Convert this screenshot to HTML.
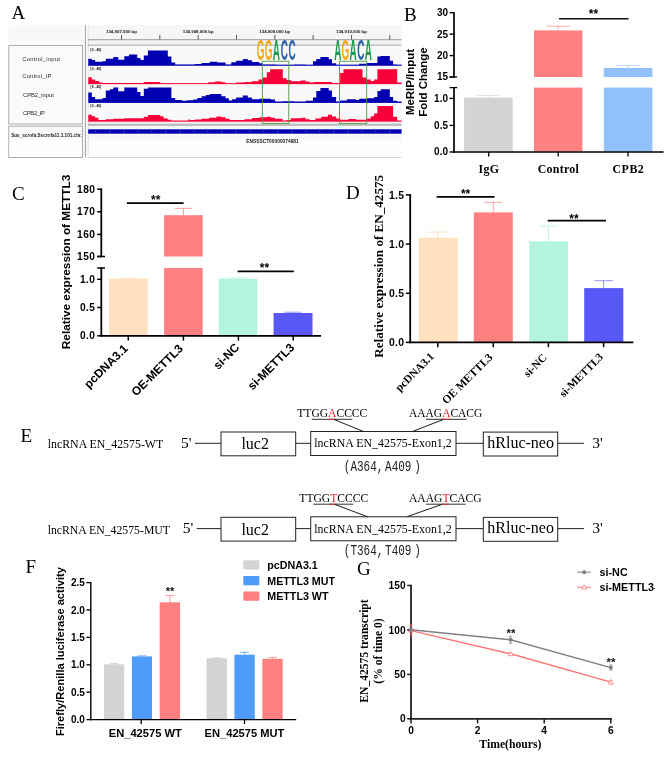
<!DOCTYPE html>
<html><head><meta charset="utf-8"><title>Figure</title>
<style>html,body{margin:0;padding:0;background:#fff}svg{display:block;will-change:transform}.sa{font-family:"Liberation Sans", sans-serif}.se{font-family:"Liberation Serif", serif}.mo{font-family:"Liberation Mono", monospace}</style></head><body>
<svg width="666" height="761" viewBox="0 0 666 761">
<rect width="666" height="761" fill="#fff"/>
<g id="panelA">
<text class="se" x="11.5" y="18.8" font-size="19">A</text>
<rect x="8.40" y="25.00" width="393.20" height="132.60" fill="#f8f8f8"/>
<rect x="8.80" y="45.50" width="73.70" height="78.50" fill="#fafafa" stroke="#9a9a9a" stroke-width="0.8"/>
<rect x="8.80" y="126.20" width="73.70" height="31.20" fill="#fafafa" stroke="#9a9a9a" stroke-width="0.8"/>
<rect x="83.40" y="25.00" width="5.00" height="132.60" fill="#fafafa"/>
<rect x="84.90" y="25.00" width="1.00" height="132.60" fill="#a2a2a2"/>
<rect x="87.90" y="25.00" width="1.00" height="132.60" fill="#a8a8a8"/>
<rect x="88.20" y="25.00" width="313.40" height="14.50" fill="#f6f6f6"/>
<rect x="88.20" y="39.30" width="313.40" height="1.00" fill="#8c8c8c"/>
<rect x="88.20" y="40.70" width="313.40" height="3.80" fill="#f4f4f4"/>
<rect x="88.20" y="44.50" width="313.40" height="1.40" fill="#b8b8b8"/>
<rect x="88.20" y="45.90" width="313.40" height="76.60" fill="#f9f9f9"/>
<rect x="88.20" y="122.50" width="313.40" height="1.60" fill="#e2e2e2"/>
<rect x="88.20" y="124.10" width="313.40" height="1.80" fill="#b4b4b4"/>
<rect x="88.20" y="125.90" width="313.40" height="31.50" fill="#f7f7f7"/>
<rect x="88.90" y="139.60" width="312.70" height="17.40" fill="#fdfdfd"/>
<rect x="9.30" y="139.60" width="72.70" height="17.30" fill="#fefefe"/>
<rect x="88.20" y="157.00" width="313.40" height="0.60" fill="#bdbdbd"/>
<line x1="121.5" y1="35" x2="121.5" y2="39.5" stroke="#333" stroke-width="0.8"/>
<line x1="159.8" y1="35" x2="159.8" y2="39.5" stroke="#333" stroke-width="0.8"/>
<line x1="198.2" y1="35" x2="198.2" y2="39.5" stroke="#333" stroke-width="0.8"/>
<line x1="236.5" y1="35" x2="236.5" y2="39.5" stroke="#333" stroke-width="0.8"/>
<line x1="274.8" y1="35" x2="274.8" y2="39.5" stroke="#333" stroke-width="0.8"/>
<line x1="313.1" y1="35" x2="313.1" y2="39.5" stroke="#333" stroke-width="0.8"/>
<line x1="351.5" y1="35" x2="351.5" y2="39.5" stroke="#333" stroke-width="0.8"/>
<line x1="389.8" y1="35" x2="389.8" y2="39.5" stroke="#333" stroke-width="0.8"/>
<text class="sa" x="121.5" y="32.6" font-size="4.4" font-weight="bold" text-anchor="middle" fill="#111">134,907,000 bp</text>
<text class="sa" x="198.2" y="32.6" font-size="4.4" font-weight="bold" text-anchor="middle" fill="#111">134,908,000 bp</text>
<text class="sa" x="274.8" y="32.6" font-size="4.4" font-weight="bold" text-anchor="middle" fill="#111">134,909,000 bp</text>
<text class="sa" x="351.5" y="32.6" font-size="4.4" font-weight="bold" text-anchor="middle" fill="#111">134,910,000 bp</text>
<text class="sa" x="22.3" y="60.8" font-size="5.8" fill="#2a2a2a" textLength="37.5" lengthAdjust="spacing">Control_input</text>
<text class="sa" x="22.3" y="78.2" font-size="5.8" fill="#2a2a2a" textLength="29" lengthAdjust="spacing">Control_IP</text>
<text class="sa" x="23" y="96.9" font-size="5.8" fill="#2a2a2a" textLength="30.8" lengthAdjust="spacing">CPB2_input</text>
<text class="sa" x="23" y="114.6" font-size="5.8" fill="#2a2a2a" textLength="21.8" lengthAdjust="spacing">CPB2_IP</text>
<text class="sa" x="11.2" y="136.8" font-size="5.0" font-weight="bold" fill="#222" textLength="70.7" lengthAdjust="spacingAndGlyphs">Sus_scrofa.Sscrofa11.1.101.chr.</text>
<path d="M88.3 65.3L88.3 58.7L91.8 58.7L91.8 60.0L95.1 60.0L95.1 61.7L102.5 61.7L102.5 61.3L105.8 61.3L105.8 58.7L113.3 58.7L113.3 57.0L118.2 57.0L118.2 59.7L124.3 59.7L124.3 56.3L128.9 56.3L128.9 54.4L137.2 54.4L137.2 58.0L140.5 58.0L140.5 60.0L143.8 60.0L143.8 55.6L147.9 55.6L147.9 50.4L167.8 50.4L167.8 56.4L171.4 56.4L171.4 62.5L175.2 62.5L175.2 64.6L190.1 64.6L190.0 64.6L195.0 64.6L195.0 64.1L201.6 64.1L201.6 63.0L209.8 63.0L209.8 61.7L217.3 61.7L217.3 62.5L225.5 62.5L225.5 64.4L231.3 64.4L231.3 62.2L236.2 62.2L236.2 60.8L242.9 60.8L242.9 58.9L247.8 58.9L247.8 60.3L251.9 60.3L251.9 62.0L259.4 62.0L259.4 63.3L262.7 63.3L262.7 64.4L275.9 64.4L275.9 64.7L294.1 64.7L294.0 64.6L305.6 64.6L305.6 64.8L313.0 64.8L313.0 61.3L316.3 61.3L316.3 58.9L320.4 58.9L320.4 57.0L328.7 57.0L328.7 59.2L332.0 59.2L332.0 63.3L336.1 63.3L336.1 64.7L359.2 64.7L359.2 63.8L366.7 63.8L366.7 63.0L377.4 63.0L377.4 56.4L380.7 56.4L380.7 56.0L389.8 56.0L389.8 60.8L393.1 60.8L393.1 64.5L397.2 64.5L397.2 64.8L401.7 64.8L401.7 65.3Z" fill="#0000b2"/>
<rect x="88.20" y="64.85" width="313.40" height="0.85" fill="#0000b2"/>
<path d="M88.3 83.9L88.3 77.3L91.8 77.3L91.8 79.4L95.1 79.4L95.1 81.1L99.2 81.1L99.2 82.4L102.5 82.4L102.5 83.1L143.8 83.1L143.8 82.1L160.3 82.1L160.3 83.3L190.1 83.3L190.0 83.3L208.2 83.3L208.2 82.3L214.8 82.3L214.8 81.4L221.4 81.4L221.4 82.3L225.5 82.3L225.5 83.3L236.2 83.3L236.2 82.6L244.5 82.6L244.5 82.1L251.9 82.1L251.9 81.3L258.5 81.3L258.5 79.6L262.7 79.6L262.7 77.6L266.8 77.6L266.8 72.2L270.1 72.2L270.1 69.2L282.8 69.2L282.8 78.3L286.6 78.3L286.6 80.1L290.8 80.1L290.8 81.3L294.1 81.3L294.0 81.3L300.6 81.3L300.6 80.4L305.6 80.4L305.6 81.6L309.7 81.6L309.7 82.6L313.8 82.6L313.8 82.1L332.0 82.1L332.0 82.9L340.2 82.9L340.2 73.0L343.5 73.0L343.5 69.2L362.5 69.2L362.5 77.6L366.7 77.6L366.7 79.6L370.8 79.6L370.8 80.9L374.1 80.9L374.1 79.6L377.4 79.6L377.4 69.2L397.2 69.2L397.2 82.6L401.7 82.6L401.7 83.9Z" fill="#f80038"/>
<rect x="88.20" y="83.60" width="313.40" height="0.55" fill="#f80038"/>
<path d="M88.3 102.5L88.3 92.6L91.8 92.6L91.8 97.0L95.1 97.0L95.1 99.2L102.5 99.2L102.5 97.9L105.8 97.9L105.8 90.5L109.9 90.5L109.9 89.3L113.3 89.3L113.3 87.6L118.2 87.6L118.2 91.3L124.3 91.3L124.3 87.6L137.2 87.6L137.2 92.1L140.5 92.1L140.5 95.9L143.8 95.9L143.8 88.8L147.9 88.8L147.9 87.6L171.4 87.6L171.4 97.9L175.2 97.9L175.2 99.9L181.8 99.9L181.8 100.8L186.8 100.8L186.8 100.2L190.1 100.2L190.0 100.2L193.3 100.2L193.3 99.5L197.4 99.5L197.4 97.9L201.6 97.9L201.6 96.2L205.7 96.2L205.7 94.9L209.8 94.9L209.8 94.1L221.4 94.1L221.4 96.2L225.5 96.2L225.5 98.2L228.8 98.2L228.8 100.4L232.1 100.4L232.1 99.2L236.2 99.2L236.2 97.5L242.9 97.5L242.9 95.4L247.8 95.4L247.8 97.4L251.9 97.4L251.9 99.2L259.4 99.2L259.4 98.7L270.9 98.7L270.9 99.5L275.1 99.5L275.1 101.5L282.5 101.5L282.5 101.2L294.1 101.2L294.0 101.5L305.6 101.5L305.6 100.8L313.0 100.8L313.0 97.5L316.3 97.5L316.3 90.9L320.4 90.9L320.4 88.0L328.7 88.0L328.7 90.5L332.0 90.5L332.0 97.0L336.1 97.0L336.1 101.5L340.2 101.5L340.2 100.4L346.9 100.4L346.9 99.2L355.9 99.2L355.9 99.9L359.2 99.9L359.2 98.7L366.7 98.7L366.7 98.2L374.1 98.2L374.1 97.0L377.4 97.0L377.4 90.9L380.7 90.9L380.7 89.3L389.8 89.3L389.8 97.0L393.1 97.0L393.1 100.8L397.2 100.8L397.2 101.5L401.7 101.5L401.7 102.5Z" fill="#0000b2"/>
<rect x="88.20" y="102.05" width="313.40" height="0.85" fill="#0000b2"/>
<path d="M88.3 121.3L88.3 114.7L91.8 114.7L91.8 116.3L95.1 116.3L95.1 117.7L98.4 117.7L98.4 120.0L105.8 120.0L105.8 119.3L113.3 119.3L113.3 118.7L124.3 118.7L124.3 118.3L143.8 118.3L143.8 116.8L147.9 116.8L147.9 114.9L160.3 114.9L160.3 116.3L163.6 116.3L163.6 118.5L167.8 118.5L167.8 119.8L171.4 119.8L171.4 120.6L188.4 120.6L188.4 119.6L190.1 119.6L190.0 120.1L195.0 120.1L195.0 119.6L201.6 119.6L201.6 118.7L209.0 118.7L209.0 117.7L216.4 117.7L216.4 116.5L221.4 116.5L221.4 117.2L225.5 117.2L225.5 118.7L229.6 118.7L229.6 120.1L244.5 120.1L244.5 119.3L251.9 119.3L251.9 118.0L259.4 118.0L259.4 117.3L266.8 117.3L266.8 116.8L270.9 116.8L270.9 117.7L275.1 117.7L275.1 118.7L282.5 118.7L282.5 120.6L286.6 120.6L286.6 120.1L290.8 120.1L290.8 118.2L294.1 118.2L294.0 118.2L301.4 118.2L301.4 117.7L305.6 117.7L305.6 119.3L309.7 119.3L309.7 120.1L315.5 120.1L315.5 118.5L321.3 118.5L321.3 116.8L327.9 116.8L327.9 114.7L332.0 114.7L332.0 116.5L336.1 116.5L336.1 118.5L340.2 118.5L340.2 119.8L348.5 119.8L348.5 119.0L355.9 119.0L355.9 119.8L366.7 119.8L366.7 118.5L370.8 118.5L370.8 116.3L374.1 116.3L374.1 113.5L377.4 113.5L377.4 106.1L393.1 106.1L393.1 116.8L397.2 116.8L397.2 120.6L401.7 120.6L401.7 121.3Z" fill="#f80038"/>
<rect x="88.20" y="121.00" width="313.40" height="0.55" fill="#f80038"/>
<text class="sa" x="90.6" y="51.0" font-size="3.3" font-weight="bold" textLength="10.5" lengthAdjust="spacingAndGlyphs">[0 - 40]</text>
<text class="sa" x="90.6" y="69.60000000000001" font-size="3.3" font-weight="bold" textLength="10.5" lengthAdjust="spacingAndGlyphs">[0 - 40]</text>
<text class="sa" x="90.6" y="88.2" font-size="3.3" font-weight="bold" textLength="10.5" lengthAdjust="spacingAndGlyphs">[0 - 40]</text>
<text class="sa" x="90.6" y="107.0" font-size="3.3" font-weight="bold" textLength="10.5" lengthAdjust="spacingAndGlyphs">[0 - 40]</text>
<rect x="88.20" y="129.30" width="313.40" height="4.40" fill="#0000b2"/>
<path d="M96.3 130.6l-1 0.9l1 0.9" stroke="#9aa4ff" stroke-width="0.5" fill="none"/>
<path d="M110.3 130.6l-1 0.9l1 0.9" stroke="#9aa4ff" stroke-width="0.5" fill="none"/>
<path d="M124.3 130.6l-1 0.9l1 0.9" stroke="#9aa4ff" stroke-width="0.5" fill="none"/>
<path d="M138.3 130.6l-1 0.9l1 0.9" stroke="#9aa4ff" stroke-width="0.5" fill="none"/>
<path d="M152.3 130.6l-1 0.9l1 0.9" stroke="#9aa4ff" stroke-width="0.5" fill="none"/>
<path d="M166.3 130.6l-1 0.9l1 0.9" stroke="#9aa4ff" stroke-width="0.5" fill="none"/>
<path d="M180.3 130.6l-1 0.9l1 0.9" stroke="#9aa4ff" stroke-width="0.5" fill="none"/>
<path d="M194.3 130.6l-1 0.9l1 0.9" stroke="#9aa4ff" stroke-width="0.5" fill="none"/>
<path d="M208.3 130.6l-1 0.9l1 0.9" stroke="#9aa4ff" stroke-width="0.5" fill="none"/>
<path d="M222.3 130.6l-1 0.9l1 0.9" stroke="#9aa4ff" stroke-width="0.5" fill="none"/>
<path d="M236.3 130.6l-1 0.9l1 0.9" stroke="#9aa4ff" stroke-width="0.5" fill="none"/>
<path d="M250.3 130.6l-1 0.9l1 0.9" stroke="#9aa4ff" stroke-width="0.5" fill="none"/>
<path d="M264.3 130.6l-1 0.9l1 0.9" stroke="#9aa4ff" stroke-width="0.5" fill="none"/>
<path d="M278.3 130.6l-1 0.9l1 0.9" stroke="#9aa4ff" stroke-width="0.5" fill="none"/>
<path d="M292.3 130.6l-1 0.9l1 0.9" stroke="#9aa4ff" stroke-width="0.5" fill="none"/>
<path d="M306.3 130.6l-1 0.9l1 0.9" stroke="#9aa4ff" stroke-width="0.5" fill="none"/>
<path d="M320.3 130.6l-1 0.9l1 0.9" stroke="#9aa4ff" stroke-width="0.5" fill="none"/>
<path d="M334.3 130.6l-1 0.9l1 0.9" stroke="#9aa4ff" stroke-width="0.5" fill="none"/>
<path d="M348.3 130.6l-1 0.9l1 0.9" stroke="#9aa4ff" stroke-width="0.5" fill="none"/>
<path d="M362.3 130.6l-1 0.9l1 0.9" stroke="#9aa4ff" stroke-width="0.5" fill="none"/>
<path d="M376.3 130.6l-1 0.9l1 0.9" stroke="#9aa4ff" stroke-width="0.5" fill="none"/>
<path d="M390.3 130.6l-1 0.9l1 0.9" stroke="#9aa4ff" stroke-width="0.5" fill="none"/>
<text class="sa" x="272.5" y="143.2" font-size="4.6" font-weight="bold" text-anchor="middle" fill="#222" textLength="52.5" lengthAdjust="spacingAndGlyphs">ENSSSCT00000074981</text>
<rect x="262.3" y="61.2" width="26.5" height="62.2" fill="none" stroke="#4a9a3c" stroke-width="0.9"/>
<rect x="339.5" y="61.2" width="27.2" height="62.2" fill="none" stroke="#4a9a3c" stroke-width="0.9"/>
<text class="sa" transform="translate(260.72 60.4) scale(0.55 1.62)" font-size="18" font-weight="bold" text-anchor="middle" fill="#f5a81c">G</text>
<text class="sa" transform="translate(268.56 60.4) scale(0.55 1.62)" font-size="18" font-weight="bold" text-anchor="middle" fill="#f5a81c">G</text>
<text class="sa" transform="translate(276.40 60.4) scale(0.55 1.62)" font-size="18" font-weight="bold" text-anchor="middle" fill="#1e9a48">A</text>
<text class="sa" transform="translate(284.24 60.4) scale(0.55 1.62)" font-size="18" font-weight="bold" text-anchor="middle" fill="#2a62a8">C</text>
<text class="sa" transform="translate(292.08 60.4) scale(0.55 1.62)" font-size="18" font-weight="bold" text-anchor="middle" fill="#2a62a8">C</text>
<text class="sa" transform="translate(337.82 60.4) scale(0.55 1.62)" font-size="18" font-weight="bold" text-anchor="middle" fill="#1e9a48">A</text>
<text class="sa" transform="translate(345.46 60.4) scale(0.55 1.62)" font-size="18" font-weight="bold" text-anchor="middle" fill="#f5a81c">G</text>
<text class="sa" transform="translate(353.10 60.4) scale(0.55 1.62)" font-size="18" font-weight="bold" text-anchor="middle" fill="#1e9a48">A</text>
<text class="sa" transform="translate(360.74 60.4) scale(0.55 1.62)" font-size="18" font-weight="bold" text-anchor="middle" fill="#2a62a8">C</text>
<text class="sa" transform="translate(368.38 60.4) scale(0.55 1.62)" font-size="18" font-weight="bold" text-anchor="middle" fill="#1e9a48">A</text>
</g>
<g id="panelB">
<text class="se" x="404" y="20.6" font-size="19">B</text>
<rect x="464.10" y="97.60" width="48.60" height="54.00" fill="#d3d3d3"/>
<rect x="534.00" y="30.40" width="48.40" height="46.60" fill="#ff8080"/>
<rect x="534.00" y="87.60" width="48.40" height="64.00" fill="#ff8080"/>
<rect x="603.80" y="68.00" width="48.60" height="9.00" fill="#92c0fa"/>
<rect x="603.80" y="87.60" width="48.60" height="64.00" fill="#92c0fa"/>
<line x1="488.4" y1="95.4" x2="488.4" y2="97.8" stroke="#cfcfcf" stroke-width="0.6"/>
<line x1="476.9" y1="95.4" x2="499.9" y2="95.4" stroke="#cfcfcf" stroke-width="0.6"/>
<line x1="558.2" y1="26.2" x2="558.2" y2="30.6" stroke="#ff8a8a" stroke-width="0.7"/>
<line x1="546.7" y1="26.2" x2="569.7" y2="26.2" stroke="#ff8a8a" stroke-width="0.7"/>
<line x1="628.0" y1="65.4" x2="628.0" y2="68.2" stroke="#9cc6fb" stroke-width="0.7"/>
<line x1="616.5" y1="65.4" x2="639.5" y2="65.4" stroke="#9cc6fb" stroke-width="0.7"/>
<line x1="454" y1="12.0" x2="454" y2="77.5" stroke="#000" stroke-width="1.7"/>
<line x1="454" y1="86.9" x2="454" y2="152.8" stroke="#000" stroke-width="1.7"/>
<line x1="449.6" y1="77" x2="457.2" y2="77" stroke="#000" stroke-width="1.3"/>
<line x1="449.6" y1="87.6" x2="457.2" y2="87.6" stroke="#000" stroke-width="1.3"/>
<line x1="453.2" y1="152" x2="663.6" y2="152" stroke="#000" stroke-width="1.7"/>
<line x1="449.6" y1="12.7" x2="454" y2="12.7" stroke="#000" stroke-width="1.4"/>
<text class="sa" x="448.0" y="16.0" font-size="10" font-weight="bold" text-anchor="end">30</text>
<line x1="449.6" y1="34.2" x2="454" y2="34.2" stroke="#000" stroke-width="1.4"/>
<text class="sa" x="448.0" y="37.5" font-size="10" font-weight="bold" text-anchor="end">25</text>
<line x1="449.6" y1="55.6" x2="454" y2="55.6" stroke="#000" stroke-width="1.4"/>
<text class="sa" x="448.0" y="58.9" font-size="10" font-weight="bold" text-anchor="end">20</text>
<line x1="449.6" y1="77" x2="454" y2="77" stroke="#000" stroke-width="1.4"/>
<text class="sa" x="448.0" y="80.3" font-size="10" font-weight="bold" text-anchor="end">15</text>
<line x1="449.6" y1="98.4" x2="454" y2="98.4" stroke="#000" stroke-width="1.4"/>
<text class="sa" x="448.0" y="101.7" font-size="10" font-weight="bold" text-anchor="end">1.0</text>
<line x1="449.6" y1="125.4" x2="454" y2="125.4" stroke="#000" stroke-width="1.4"/>
<text class="sa" x="448.0" y="128.70000000000002" font-size="10" font-weight="bold" text-anchor="end">0.5</text>
<line x1="449.6" y1="152" x2="454" y2="152" stroke="#000" stroke-width="1.4"/>
<text class="sa" x="448.0" y="155.3" font-size="10" font-weight="bold" text-anchor="end">0.0</text>
<line x1="488.7" y1="152" x2="488.7" y2="156.4" stroke="#000" stroke-width="1.3"/>
<line x1="558.2" y1="152" x2="558.2" y2="156.4" stroke="#000" stroke-width="1.3"/>
<line x1="628.0" y1="152" x2="628.0" y2="156.4" stroke="#000" stroke-width="1.3"/>
<text class="sa" transform="translate(414.0 82) rotate(-90)" font-size="11.45" font-weight="bold" text-anchor="middle">MeRIP/Input</text>
<text class="sa" transform="translate(427.4 82) rotate(-90)" font-size="11.45" font-weight="bold" text-anchor="middle">Fold Change</text>
<line x1="559" y1="18.8" x2="628.6" y2="18.8" stroke="#111" stroke-width="1.4"/>
<text class="sa" x="593.4" y="18.0" font-size="12" font-weight="bold" text-anchor="middle">**</text>
<text class="se" x="488.9" y="172.9" font-size="11.9" font-weight="bold" text-anchor="middle" letter-spacing="0.35">IgG</text>
<text class="se" x="558.4" y="172.9" font-size="11.9" font-weight="bold" text-anchor="middle" letter-spacing="0.3">Control</text>
<text class="se" x="628.4" y="172.9" font-size="11.9" font-weight="bold" text-anchor="middle" letter-spacing="0.5">CPB2</text>
</g>
<g id="panelC">
<text class="se" x="12" y="199.8" font-size="19">C</text>
<rect x="108.90" y="278.60" width="38.90" height="57.20" fill="#ffe0c0"/>
<rect x="164.10" y="215.20" width="38.60" height="41.30" fill="#ff8080"/>
<rect x="164.10" y="268.00" width="38.60" height="67.80" fill="#ff8080"/>
<rect x="218.80" y="278.60" width="38.50" height="57.20" fill="#b2f5dc"/>
<rect x="273.60" y="313.00" width="38.90" height="22.80" fill="#5858f8"/>
<line x1="128.3" y1="277.9" x2="128.3" y2="278.8" stroke="#ffe6cc" stroke-width="0.7"/>
<line x1="119.70000000000002" y1="277.9" x2="136.9" y2="277.9" stroke="#ffe6cc" stroke-width="0.7"/>
<line x1="183.4" y1="208.4" x2="183.4" y2="215.4" stroke="#ff8a8a" stroke-width="0.8"/>
<line x1="174.8" y1="208.4" x2="192.0" y2="208.4" stroke="#ff8a8a" stroke-width="0.8"/>
<line x1="238.0" y1="277.6" x2="238.0" y2="278.8" stroke="#bff7e2" stroke-width="0.7"/>
<line x1="229.4" y1="277.6" x2="246.6" y2="277.6" stroke="#bff7e2" stroke-width="0.7"/>
<line x1="293.0" y1="312.2" x2="293.0" y2="313.2" stroke="#6a6af8" stroke-width="0.7"/>
<line x1="284.4" y1="312.2" x2="301.6" y2="312.2" stroke="#6a6af8" stroke-width="0.7"/>
<line x1="101.3" y1="188.4" x2="101.3" y2="257.2" stroke="#000" stroke-width="1.8"/>
<line x1="101.3" y1="267.3" x2="101.3" y2="336.6" stroke="#000" stroke-width="1.8"/>
<line x1="97.2" y1="256.5" x2="105.0" y2="256.5" stroke="#000" stroke-width="1.5"/>
<line x1="97.2" y1="268.0" x2="105.0" y2="268.0" stroke="#000" stroke-width="1.5"/>
<line x1="100.4" y1="335.8" x2="321" y2="335.8" stroke="#000" stroke-width="1.8"/>
<line x1="97.2" y1="189.2" x2="101.3" y2="189.2" stroke="#000" stroke-width="1.5"/>
<text class="sa" x="95.3" y="192.79999999999998" font-size="10.2" font-weight="bold" text-anchor="end" letter-spacing="0.4">180</text>
<line x1="97.2" y1="211.8" x2="101.3" y2="211.8" stroke="#000" stroke-width="1.5"/>
<text class="sa" x="95.3" y="215.4" font-size="10.2" font-weight="bold" text-anchor="end" letter-spacing="0.4">170</text>
<line x1="97.2" y1="234.4" x2="101.3" y2="234.4" stroke="#000" stroke-width="1.5"/>
<text class="sa" x="95.3" y="238.0" font-size="10.2" font-weight="bold" text-anchor="end" letter-spacing="0.4">160</text>
<line x1="97.2" y1="256.5" x2="101.3" y2="256.5" stroke="#000" stroke-width="1.5"/>
<text class="sa" x="95.3" y="260.1" font-size="10.2" font-weight="bold" text-anchor="end" letter-spacing="0.4">150</text>
<line x1="97.2" y1="279.3" x2="101.3" y2="279.3" stroke="#000" stroke-width="1.5"/>
<text class="sa" x="95.3" y="282.90000000000003" font-size="10.2" font-weight="bold" text-anchor="end" letter-spacing="0.4">1.0</text>
<line x1="97.2" y1="307.5" x2="101.3" y2="307.5" stroke="#000" stroke-width="1.5"/>
<text class="sa" x="95.3" y="311.1" font-size="10.2" font-weight="bold" text-anchor="end" letter-spacing="0.4">0.5</text>
<line x1="97.2" y1="335.8" x2="101.3" y2="335.8" stroke="#000" stroke-width="1.5"/>
<text class="sa" x="95.3" y="339.40000000000003" font-size="10.2" font-weight="bold" text-anchor="end" letter-spacing="0.4">0.0</text>
<line x1="128.3" y1="335.8" x2="128.3" y2="340.6" stroke="#000" stroke-width="1.5"/>
<line x1="183.4" y1="335.8" x2="183.4" y2="340.6" stroke="#000" stroke-width="1.5"/>
<line x1="238.4" y1="335.8" x2="238.4" y2="340.6" stroke="#000" stroke-width="1.5"/>
<line x1="293.2" y1="335.8" x2="293.2" y2="340.6" stroke="#000" stroke-width="1.5"/>
<text class="sa" transform="translate(70.4 262) rotate(-90)" font-size="11.8" font-weight="bold" text-anchor="middle">Relative expression of METTL3</text>
<line x1="126.9" y1="203.2" x2="183.6" y2="203.2" stroke="#000" stroke-width="1.7"/>
<text class="sa" x="155.7" y="204.39999999999998" font-size="12" font-weight="bold" text-anchor="middle">**</text>
<line x1="237.6" y1="271.4" x2="293.8" y2="271.4" stroke="#000" stroke-width="1.7"/>
<text class="sa" x="264.5" y="272.4" font-size="12" font-weight="bold" text-anchor="middle">**</text>
<text class="sa" transform="translate(128.70000000000002 349.2) rotate(-45)" font-size="11.9" font-weight="bold" text-anchor="end">pcDNA3.1</text>
<text class="sa" transform="translate(183.8 349.2) rotate(-45)" font-size="11.9" font-weight="bold" text-anchor="end">OE-METTL3</text>
<text class="sa" transform="translate(240.1 348.2) rotate(-45)" font-size="11.9" font-weight="bold" text-anchor="end">si-NC</text>
<text class="sa" transform="translate(295.09999999999997 348.2) rotate(-45)" font-size="11.9" font-weight="bold" text-anchor="end">si-METTL3</text>
</g>
<g id="panelD">
<text class="se" x="346" y="199.2" font-size="19">D</text>
<rect x="418.60" y="237.70" width="39.10" height="104.70" fill="#ffe0c0"/>
<rect x="473.80" y="212.40" width="39.00" height="130.00" fill="#ff8080"/>
<rect x="529.20" y="241.30" width="38.90" height="101.10" fill="#b2f5dc"/>
<rect x="584.20" y="288.10" width="39.10" height="54.30" fill="#5858f8"/>
<line x1="437.8" y1="232.1" x2="437.8" y2="237.9" stroke="#ffd9b3" stroke-width="0.8"/>
<line x1="428.8" y1="232.1" x2="446.8" y2="232.1" stroke="#ffd9b3" stroke-width="0.8"/>
<line x1="493.3" y1="202.3" x2="493.3" y2="212.6" stroke="#ff8a8a" stroke-width="0.8"/>
<line x1="484.1" y1="202.3" x2="502.5" y2="202.3" stroke="#ff8a8a" stroke-width="0.8"/>
<line x1="548.4" y1="226.1" x2="548.4" y2="241.5" stroke="#b2f5dc" stroke-width="0.8"/>
<line x1="539.1999999999999" y1="226.1" x2="557.6" y2="226.1" stroke="#b2f5dc" stroke-width="0.8"/>
<line x1="603.6" y1="280.7" x2="603.6" y2="288.3" stroke="#7878fa" stroke-width="0.8"/>
<line x1="594.4" y1="280.7" x2="612.8000000000001" y2="280.7" stroke="#7878fa" stroke-width="0.8"/>
<line x1="410.2" y1="194.1" x2="410.2" y2="343.2" stroke="#000" stroke-width="1.8"/>
<line x1="409.3" y1="342.4" x2="633.4" y2="342.4" stroke="#000" stroke-width="1.8"/>
<line x1="405.8" y1="194.9" x2="410.2" y2="194.9" stroke="#000" stroke-width="1.5"/>
<text class="sa" x="404.4" y="198.6" font-size="10.4" font-weight="bold" text-anchor="end" letter-spacing="0.35">1.5</text>
<line x1="405.8" y1="244.1" x2="410.2" y2="244.1" stroke="#000" stroke-width="1.5"/>
<text class="sa" x="404.4" y="247.79999999999998" font-size="10.4" font-weight="bold" text-anchor="end" letter-spacing="0.35">1.0</text>
<line x1="405.8" y1="293.3" x2="410.2" y2="293.3" stroke="#000" stroke-width="1.5"/>
<text class="sa" x="404.4" y="297.0" font-size="10.4" font-weight="bold" text-anchor="end" letter-spacing="0.35">0.5</text>
<line x1="405.8" y1="342.4" x2="410.2" y2="342.4" stroke="#000" stroke-width="1.5"/>
<text class="sa" x="404.4" y="346.09999999999997" font-size="10.4" font-weight="bold" text-anchor="end" letter-spacing="0.35">0.0</text>
<line x1="437.8" y1="342.4" x2="437.8" y2="347.2" stroke="#000" stroke-width="1.5"/>
<line x1="493.3" y1="342.4" x2="493.3" y2="347.2" stroke="#000" stroke-width="1.5"/>
<line x1="548.4" y1="342.4" x2="548.4" y2="347.2" stroke="#000" stroke-width="1.5"/>
<line x1="603.6" y1="342.4" x2="603.6" y2="347.2" stroke="#000" stroke-width="1.5"/>
<text class="se" transform="translate(382.8 266.3) rotate(-90)" font-size="13.1" font-weight="bold" text-anchor="middle">Relative expression of EN_42575</text>
<line x1="436.6" y1="196.8" x2="494.5" y2="196.8" stroke="#000" stroke-width="1.7"/>
<text class="sa" x="465.6" y="197.6" font-size="12" font-weight="bold" text-anchor="middle">**</text>
<line x1="547.7" y1="220.6" x2="606.0" y2="220.6" stroke="#000" stroke-width="1.7"/>
<text class="sa" x="574.0" y="223.39999999999998" font-size="12" font-weight="bold" text-anchor="middle">**</text>
<text class="se" transform="translate(434.8 357.09999999999997) rotate(-45)" font-size="11.2" font-weight="bold" text-anchor="end">pcDNA3.1</text>
<text class="se" transform="translate(493.3 357.9) rotate(-45)" font-size="11.4" font-weight="bold" text-anchor="end">OE METTL3</text>
<text class="se" transform="translate(547.4 358.4) rotate(-45)" font-size="11.2" font-weight="bold" text-anchor="end">si-NC</text>
<text class="se" transform="translate(603.8000000000001 357.59999999999997) rotate(-45)" font-size="11.1" font-weight="bold" text-anchor="end">si-METTL3</text>
</g>
<g id="panelE">
<text class="se" x="20.5" y="442.1" font-size="19">E</text>
<text class="se" x="47.7" y="448.3" font-size="11.8" textLength="115.6" lengthAdjust="spacingAndGlyphs">lncRNA EN_42575-WT</text>
<text class="se" x="181" y="447.5" font-size="15.5">5'</text>
<line x1="195" y1="443.3" x2="221" y2="443.3" stroke="#222" stroke-width="1.0"/>
<rect x="221" y="432.0" width="74.7" height="23.8" fill="#fff" stroke="#222" stroke-width="1.0"/>
<text class="se" x="255.2" y="449.3" font-size="16" text-anchor="middle">luc2</text>
<line x1="295.7" y1="443.3" x2="310.7" y2="443.3" stroke="#222" stroke-width="1.0"/>
<rect x="310.7" y="431.5" width="145.3" height="24.0" fill="#fff" stroke="#222" stroke-width="1.0"/>
<text class="se" x="314.3" y="447.3" font-size="11.8" textLength="137.4" lengthAdjust="spacingAndGlyphs">lncRNA EN_42575-Exon1,2</text>
<line x1="456" y1="443.3" x2="483.3" y2="443.3" stroke="#222" stroke-width="1.0"/>
<rect x="483.3" y="432.1" width="74.4" height="23.9" fill="#fff" stroke="#222" stroke-width="1.0"/>
<text class="se" x="520.6" y="447.7" font-size="16" text-anchor="middle">hRluc-neo</text>
<line x1="557.7" y1="443.3" x2="584" y2="443.3" stroke="#222" stroke-width="1.0"/>
<text class="se" x="592.3" y="447.5" font-size="15.5">3'</text>
<text class="se" x="297.3" y="416.7" font-size="11.5" textLength="70" lengthAdjust="spacingAndGlyphs">TTGG<tspan fill="#e8202a">A</tspan>CCCC</text>
<text class="se" x="409" y="416.7" font-size="11.5" textLength="73.3" lengthAdjust="spacingAndGlyphs">AAAG<tspan fill="#e8202a">A</tspan>CACG</text>
<text class="mo" transform="translate(343.8 471.2) scale(1 1.27)" font-size="11" fill="#222">(A364,</text>
<text class="mo" transform="translate(385.05 471.2) scale(1 1.27)" font-size="11" fill="#222">A409</text>
<text class="mo" transform="translate(414.2 471.2) scale(1 1.27)" font-size="11" fill="#222">)</text>
<line x1="311.7" y1="419.3" x2="352.3" y2="419.3" stroke="#1a1a1a" stroke-width="0.9"/>
<line x1="426" y1="419.3" x2="466.7" y2="419.3" stroke="#1a1a1a" stroke-width="0.9"/>
<line x1="328.3" y1="419.3" x2="336.4" y2="419.3" stroke="#e8202a" stroke-width="0.9"/>
<line x1="442.3" y1="419.3" x2="450.5" y2="419.3" stroke="#e8202a" stroke-width="0.9"/>
<line x1="334" y1="419.5" x2="363.3" y2="431.4" stroke="#1a1a1a" stroke-width="1.0"/>
<line x1="443.3" y1="419.5" x2="412.7" y2="431.4" stroke="#1a1a1a" stroke-width="1.0"/>
<text class="se" x="47.7" y="533.6" font-size="11.8" textLength="122.3" lengthAdjust="spacingAndGlyphs">lncRNA EN_42575-MUT</text>
<text class="se" x="182.7" y="532.8000000000001" font-size="15.5">5'</text>
<line x1="196.7" y1="528.6" x2="221" y2="528.6" stroke="#222" stroke-width="1.0"/>
<rect x="221" y="517.3" width="74.7" height="23.8" fill="#fff" stroke="#222" stroke-width="1.0"/>
<text class="se" x="255.2" y="534.6" font-size="16" text-anchor="middle">luc2</text>
<line x1="295.7" y1="528.6" x2="310.7" y2="528.6" stroke="#222" stroke-width="1.0"/>
<rect x="310.7" y="516.8" width="145.3" height="24.0" fill="#fff" stroke="#222" stroke-width="1.0"/>
<text class="se" x="314.3" y="532.6" font-size="11.8" textLength="137.4" lengthAdjust="spacingAndGlyphs">lncRNA EN_42575-Exon1,2</text>
<line x1="456" y1="528.6" x2="483.3" y2="528.6" stroke="#222" stroke-width="1.0"/>
<rect x="483.3" y="517.4" width="74.4" height="23.9" fill="#fff" stroke="#222" stroke-width="1.0"/>
<text class="se" x="520.6" y="533.0" font-size="16" text-anchor="middle">hRluc-neo</text>
<line x1="557.7" y1="528.6" x2="584" y2="528.6" stroke="#222" stroke-width="1.0"/>
<text class="se" x="592.3" y="532.8000000000001" font-size="15.5">3'</text>
<text class="se" x="299.3" y="502.0" font-size="11.5" textLength="69" lengthAdjust="spacingAndGlyphs">TTGG<tspan fill="#e8202a">T</tspan>CCCC</text>
<text class="se" x="409" y="502.0" font-size="11.5" textLength="72.7" lengthAdjust="spacingAndGlyphs">AAAG<tspan fill="#e8202a">T</tspan>CACG</text>
<text class="mo" transform="translate(343.8 554.9) scale(1 1.27)" font-size="11" fill="#222">(T364,</text>
<text class="mo" transform="translate(385.05 554.9) scale(1 1.27)" font-size="11" fill="#222">T409</text>
<text class="mo" transform="translate(414.2 554.9) scale(1 1.27)" font-size="11" fill="#222">)</text>
<line x1="313.3" y1="504.2" x2="353.3" y2="504.2" stroke="#1a1a1a" stroke-width="0.9"/>
<line x1="426" y1="504.2" x2="465.7" y2="504.2" stroke="#1a1a1a" stroke-width="0.9"/>
<line x1="329.8" y1="504.2" x2="336.8" y2="504.2" stroke="#e8202a" stroke-width="0.9"/>
<line x1="442.0" y1="504.2" x2="449.0" y2="504.2" stroke="#e8202a" stroke-width="0.9"/>
<line x1="335" y1="504.5" x2="367.7" y2="516.8" stroke="#1a1a1a" stroke-width="1.0"/>
<line x1="441.7" y1="504.5" x2="407.3" y2="516.6" stroke="#1a1a1a" stroke-width="1.0"/>
</g>
<g id="panelF">
<text class="se" x="25.5" y="573.0" font-size="19">F</text>
<rect x="104.00" y="664.30" width="20.20" height="55.30" fill="#d3d3d3"/>
<rect x="131.90" y="656.40" width="20.10" height="63.20" fill="#4f9bf9"/>
<rect x="159.70" y="602.30" width="20.40" height="117.30" fill="#ff8080"/>
<rect x="206.50" y="658.30" width="20.40" height="61.30" fill="#d3d3d3"/>
<rect x="234.40" y="654.70" width="20.40" height="64.90" fill="#4f9bf9"/>
<rect x="262.30" y="658.80" width="20.40" height="60.80" fill="#ff8080"/>
<line x1="114.1" y1="663.6" x2="114.1" y2="664.5" stroke="#c8c8c8" stroke-width="0.7"/>
<line x1="109.69999999999999" y1="663.6" x2="118.5" y2="663.6" stroke="#c8c8c8" stroke-width="0.7"/>
<line x1="142.0" y1="655.8" x2="142.0" y2="656.6" stroke="#4f9bf9" stroke-width="0.7"/>
<line x1="137.6" y1="655.8" x2="146.4" y2="655.8" stroke="#4f9bf9" stroke-width="0.7"/>
<line x1="169.9" y1="595.4" x2="169.9" y2="602.5" stroke="#ff8a8a" stroke-width="0.8"/>
<line x1="165.4" y1="595.4" x2="174.4" y2="595.4" stroke="#ff8a8a" stroke-width="0.8"/>
<line x1="216.7" y1="657.7" x2="216.7" y2="658.5" stroke="#c8c8c8" stroke-width="0.7"/>
<line x1="212.29999999999998" y1="657.7" x2="221.1" y2="657.7" stroke="#c8c8c8" stroke-width="0.7"/>
<line x1="244.6" y1="652.3" x2="244.6" y2="654.9" stroke="#4f9bf9" stroke-width="0.8"/>
<line x1="240.2" y1="652.3" x2="249.0" y2="652.3" stroke="#4f9bf9" stroke-width="0.8"/>
<line x1="272.5" y1="657.3" x2="272.5" y2="659.0" stroke="#ff8a8a" stroke-width="0.8"/>
<line x1="268.1" y1="657.3" x2="276.9" y2="657.3" stroke="#ff8a8a" stroke-width="0.8"/>
<line x1="90.8" y1="582.0" x2="90.8" y2="720.2" stroke="#000" stroke-width="1.4"/>
<line x1="90.1" y1="719.6" x2="296.2" y2="719.6" stroke="#000" stroke-width="1.4"/>
<line x1="86.4" y1="582.6" x2="90.8" y2="582.6" stroke="#000" stroke-width="1.3"/>
<text class="sa" x="84.8" y="586.2" font-size="10" font-weight="bold" text-anchor="end">2.5</text>
<line x1="86.4" y1="610.0" x2="90.8" y2="610.0" stroke="#000" stroke-width="1.3"/>
<text class="sa" x="84.8" y="613.6" font-size="10" font-weight="bold" text-anchor="end">2.0</text>
<line x1="86.4" y1="637.4" x2="90.8" y2="637.4" stroke="#000" stroke-width="1.3"/>
<text class="sa" x="84.8" y="641.0" font-size="10" font-weight="bold" text-anchor="end">1.5</text>
<line x1="86.4" y1="664.8" x2="90.8" y2="664.8" stroke="#000" stroke-width="1.3"/>
<text class="sa" x="84.8" y="668.4" font-size="10" font-weight="bold" text-anchor="end">1.0</text>
<line x1="86.4" y1="692.2" x2="90.8" y2="692.2" stroke="#000" stroke-width="1.3"/>
<text class="sa" x="84.8" y="695.8000000000001" font-size="10" font-weight="bold" text-anchor="end">0.5</text>
<line x1="86.4" y1="719.6" x2="90.8" y2="719.6" stroke="#000" stroke-width="1.3"/>
<text class="sa" x="84.8" y="723.2" font-size="10" font-weight="bold" text-anchor="end">0.0</text>
<line x1="141.2" y1="719.6" x2="141.2" y2="724.0" stroke="#000" stroke-width="1.3"/>
<line x1="244.5" y1="719.6" x2="244.5" y2="724.0" stroke="#000" stroke-width="1.3"/>
<text class="sa" transform="translate(64.4 651.6) rotate(-90)" font-size="11.1" font-weight="bold" text-anchor="middle">Firefly/Renilla luciferase activity</text>
<text class="sa" x="170" y="594.6" font-size="11" font-weight="bold" text-anchor="middle" fill="#111">**</text>
<text class="sa" x="145.3" y="737.2" font-size="11.15" font-weight="bold" text-anchor="middle">EN_42575 WT</text>
<text class="sa" x="244.5" y="737.2" font-size="11.15" font-weight="bold" text-anchor="middle">EN_42575 MUT</text>
<rect x="243.3" y="560.3" width="16.1" height="9.1" rx="1" fill="#d3d3d3"/>
<text class="sa" x="267.3" y="568.6999999999999" font-size="10.7" font-weight="bold">pcDNA3.1</text>
<rect x="243.3" y="576.1" width="16.1" height="9.1" rx="1" fill="#4f9bf9"/>
<text class="sa" x="267.3" y="584.5" font-size="10.7" font-weight="bold">METTL3 MUT</text>
<rect x="243.3" y="591.6" width="16.1" height="9.1" rx="1" fill="#ff8080"/>
<text class="sa" x="267.3" y="600.0" font-size="10.7" font-weight="bold">METTL3 WT</text>
</g>
<g id="panelG">
<text class="se" x="357" y="575.0" font-size="19">G</text>
<line x1="411.0" y1="584.8" x2="411.0" y2="719.6" stroke="#222" stroke-width="1.8"/>
<line x1="410.1" y1="718.8" x2="611.8" y2="718.8" stroke="#222" stroke-width="1.8"/>
<line x1="407.2" y1="585.5" x2="411.0" y2="585.5" stroke="#1a1a1a" stroke-width="1.5"/>
<text class="sa" x="405.6" y="589.1" font-size="10.2" font-weight="bold" text-anchor="end">150</text>
<line x1="407.2" y1="629.9" x2="411.0" y2="629.9" stroke="#1a1a1a" stroke-width="1.5"/>
<text class="sa" x="405.6" y="633.5" font-size="10.2" font-weight="bold" text-anchor="end">100</text>
<line x1="407.2" y1="674.4" x2="411.0" y2="674.4" stroke="#1a1a1a" stroke-width="1.5"/>
<text class="sa" x="405.6" y="678.0" font-size="10.2" font-weight="bold" text-anchor="end">50</text>
<line x1="407.2" y1="718.8" x2="411.0" y2="718.8" stroke="#1a1a1a" stroke-width="1.5"/>
<text class="sa" x="405.6" y="722.4" font-size="10.2" font-weight="bold" text-anchor="end">0</text>
<line x1="411.0" y1="718.8" x2="411.0" y2="723.4" stroke="#1a1a1a" stroke-width="1.5"/>
<text class="sa" x="411.0" y="734.0" font-size="10.2" font-weight="bold" text-anchor="middle">0</text>
<line x1="477.6" y1="718.8" x2="477.6" y2="723.4" stroke="#1a1a1a" stroke-width="1.5"/>
<text class="sa" x="477.6" y="734.0" font-size="10.2" font-weight="bold" text-anchor="middle">2</text>
<line x1="544.2" y1="718.8" x2="544.2" y2="723.4" stroke="#1a1a1a" stroke-width="1.5"/>
<text class="sa" x="544.2" y="734.0" font-size="10.2" font-weight="bold" text-anchor="middle">4</text>
<line x1="610.8" y1="718.8" x2="610.8" y2="723.4" stroke="#1a1a1a" stroke-width="1.5"/>
<text class="sa" x="610.8" y="734.0" font-size="10.2" font-weight="bold" text-anchor="middle">6</text>
<text class="se" transform="translate(368.3 651) rotate(-90)" font-size="11.6" font-weight="bold" text-anchor="middle">EN_42575 transcript</text>
<text class="se" transform="translate(382.2 651) rotate(-90)" font-size="11.6" font-weight="bold" text-anchor="middle">(% of time 0)</text>
<text class="se" x="510.4" y="748.4" font-size="11.7" font-weight="bold" text-anchor="middle">Time(hours)</text>
<polyline points="411.0,630.6 510.6,653.8 610.8,682.1" fill="none" stroke="#ff7474" stroke-width="1.4"/>
<polyline points="411.0,629.8 510.6,639.8 610.8,667.6" fill="none" stroke="#808080" stroke-width="1.4"/>
<line x1="411.0" y1="624.6" x2="411.0" y2="635.8000000000001" stroke="#ff7474" stroke-width="0.7"/>
<line x1="409.2" y1="624.6" x2="412.8" y2="624.6" stroke="#ff7474" stroke-width="0.7"/>
<line x1="409.2" y1="635.8000000000001" x2="412.8" y2="635.8000000000001" stroke="#ff7474" stroke-width="0.7"/>
<path d="M411.0 627.8000000000001L413.4 632.12L408.6 632.12Z" fill="#fff" stroke="#ff7474" stroke-width="0.7"/>
<line x1="510.6" y1="653.0" x2="510.6" y2="654.5999999999999" stroke="#ff7474" stroke-width="0.7"/>
<line x1="508.8" y1="653.0" x2="512.4" y2="653.0" stroke="#ff7474" stroke-width="0.7"/>
<line x1="508.8" y1="654.5999999999999" x2="512.4" y2="654.5999999999999" stroke="#ff7474" stroke-width="0.7"/>
<path d="M510.6 651.4L513.0 655.7199999999999L508.20000000000005 655.7199999999999Z" fill="#fff" stroke="#ff7474" stroke-width="0.7"/>
<line x1="610.8" y1="680.3000000000001" x2="610.8" y2="683.9" stroke="#ff7474" stroke-width="0.7"/>
<line x1="609.0" y1="680.3000000000001" x2="612.5999999999999" y2="680.3000000000001" stroke="#ff7474" stroke-width="0.7"/>
<line x1="609.0" y1="683.9" x2="612.5999999999999" y2="683.9" stroke="#ff7474" stroke-width="0.7"/>
<path d="M610.8 679.7L613.1999999999999 684.02L608.4 684.02Z" fill="#fff" stroke="#ff7474" stroke-width="0.7"/>
<line x1="411.0" y1="628.0" x2="411.0" y2="631.5999999999999" stroke="#808080" stroke-width="0.7"/>
<line x1="409.2" y1="628.0" x2="412.8" y2="628.0" stroke="#808080" stroke-width="0.7"/>
<line x1="409.2" y1="631.5999999999999" x2="412.8" y2="631.5999999999999" stroke="#808080" stroke-width="0.7"/>
<circle cx="411.0" cy="629.8" r="2.0" fill="#808080"/>
<line x1="510.6" y1="636.1999999999999" x2="510.6" y2="643.4" stroke="#808080" stroke-width="0.7"/>
<line x1="508.8" y1="636.1999999999999" x2="512.4" y2="636.1999999999999" stroke="#808080" stroke-width="0.7"/>
<line x1="508.8" y1="643.4" x2="512.4" y2="643.4" stroke="#808080" stroke-width="0.7"/>
<circle cx="510.6" cy="639.8" r="2.0" fill="#808080"/>
<line x1="610.8" y1="665.0" x2="610.8" y2="670.2" stroke="#808080" stroke-width="0.7"/>
<line x1="609.0" y1="665.0" x2="612.5999999999999" y2="665.0" stroke="#808080" stroke-width="0.7"/>
<line x1="609.0" y1="670.2" x2="612.5999999999999" y2="670.2" stroke="#808080" stroke-width="0.7"/>
<circle cx="610.8" cy="667.6" r="2.0" fill="#808080"/>
<text class="sa" x="511" y="637.4" font-size="11.5" font-weight="bold" text-anchor="middle" fill="#111">**</text>
<text class="sa" x="611" y="665.6" font-size="11.5" font-weight="bold" text-anchor="middle" fill="#111">**</text>
<line x1="577.2" y1="572.2" x2="591" y2="572.2" stroke="#808080" stroke-width="1.0"/>
<circle cx="584.2" cy="572.2" r="2.0" fill="#808080"/>
<text class="sa" x="599.5" y="575.9" font-size="10.8" font-weight="bold">si-NC</text>
<line x1="577.2" y1="587.2" x2="591" y2="587.2" stroke="#ff7474" stroke-width="1.0"/>
<path d="M584.2 584.8000000000001L586.6 589.12L581.8000000000001 589.12Z" fill="#fff" stroke="#ff7474" stroke-width="0.7"/>
<text class="sa" x="599.5" y="591.1" font-size="10.8" font-weight="bold">si-METTL3</text>
<line x1="653.4" y1="588.6" x2="655.0" y2="588.6" stroke="#000" stroke-width="0.8"/>
</g>
</svg></body></html>
